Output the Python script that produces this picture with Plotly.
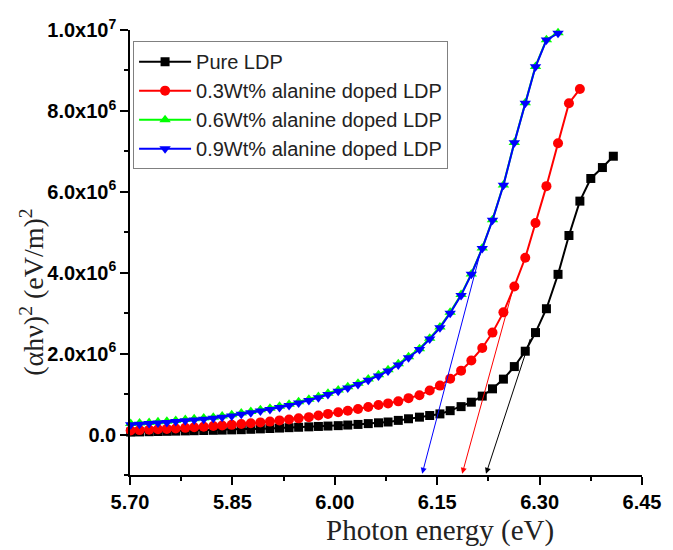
import plotly.graph_objects as go

# Photon energy grid (eV), one point per 0.5 nm of wavelength
energy = [5.701, 5.714, 5.728, 5.741, 5.754, 5.767, 5.781, 5.794, 5.808, 5.822,
          5.835, 5.849, 5.863, 5.877, 5.891, 5.905, 5.919, 5.933, 5.947, 5.962,
          5.976, 5.990, 6.005, 6.019, 6.034, 6.049, 6.064, 6.078, 6.093, 6.108,
          6.124, 6.139, 6.154, 6.169, 6.185, 6.200, 6.216, 6.231, 6.247, 6.263,
          6.279, 6.294, 6.310, 6.327, 6.343, 6.359, 6.375, 6.392, 6.408]

# (alpha h nu)^2 in units of 1e6 (eV/m)^2
pure_ldp = [0.06, 0.065, 0.07, 0.075, 0.08, 0.085, 0.09, 0.095, 0.10, 0.105,
            0.11, 0.115, 0.12, 0.13, 0.14, 0.15, 0.16, 0.17, 0.18, 0.19,
            0.20, 0.21, 0.22, 0.235, 0.25, 0.27, 0.29, 0.31, 0.35, 0.39,
            0.43, 0.47, 0.51, 0.59, 0.69, 0.80, 0.95, 1.13, 1.37, 1.68,
            2.06, 2.52, 3.11, 3.96, 4.92, 5.77, 6.33, 6.60, 6.88]

ala_03 = [0.10, 0.11, 0.12, 0.13, 0.14, 0.15, 0.165, 0.18, 0.195, 0.21,
          0.225, 0.24, 0.26, 0.28, 0.30, 0.32, 0.35, 0.37, 0.40, 0.43,
          0.47, 0.51, 0.55, 0.59, 0.63, 0.68, 0.73, 0.77, 0.82, 0.90,
          0.97, 1.09, 1.21, 1.38, 1.58, 1.83, 2.14, 2.52, 3.02, 3.66,
          4.37, 5.23, 6.14, 7.20, 8.19, 8.54]

ala_06 = [0.27, 0.285, 0.30, 0.315, 0.33, 0.35, 0.37, 0.39, 0.41, 0.43,
          0.46, 0.49, 0.53, 0.57, 0.61, 0.65, 0.70, 0.75, 0.81, 0.87,
          0.94, 1.02, 1.10, 1.18, 1.27, 1.37, 1.48, 1.60, 1.75, 1.92,
          2.12, 2.38, 2.66, 3.02, 3.46, 3.97, 4.61, 5.31, 6.17, 7.22,
          8.20, 9.10, 9.76, 9.93]

ala_09 = [0.24, 0.255, 0.27, 0.285, 0.30, 0.32, 0.34, 0.36, 0.38, 0.40,
          0.43, 0.46, 0.50, 0.54, 0.58, 0.62, 0.67, 0.72, 0.78, 0.84,
          0.91, 0.99, 1.07, 1.15, 1.24, 1.34, 1.45, 1.57, 1.72, 1.90,
          2.10, 2.36, 2.64, 3.00, 3.44, 3.96, 4.60, 5.30, 6.16, 7.21,
          8.19, 9.09, 9.75, 9.92]

# Linear extrapolations to the energy axis (band-gap estimates)
fit_colors = ["#000000", "#ff0000", "#0000ff"]
fit_top_x = [6.287, 6.262, 6.214]
fit_top_y = [2.40, 3.66, 4.55]
fit_gap_x = [6.2215, 6.1866, 6.128]
fit_base_y = -0.97

y_tick_vals = [0, 2, 4, 6, 8, 10]
y_tick_text = ["0.0", "2.0x10<sup>6</sup>", "4.0x10<sup>6</sup>",
               "6.0x10<sup>6</sup>", "8.0x10<sup>6</sup>", "1.0x10<sup>7</sup>"]
x_tick_vals = [5.70, 5.85, 6.00, 6.15, 6.30, 6.45]
x_tick_text = ["5.70", "5.85", "6.00", "6.15", "6.30", "6.45"]

SCALE = 1e6

series = [
    ("Pure LDP", pure_ldp, "#000000", "square", 9),
    ("0.3Wt% alanine doped LDP", ala_03, "#ff0000", "circle", 10),
    ("0.6Wt% alanine doped LDP", ala_06, "#00ff00", "triangle-up", 10),
    ("0.9Wt% alanine doped LDP", ala_09, "#0000ff", "triangle-down", 10),
]

fig = go.Figure()
for name, vals, color, symbol, size in series:
    fig.add_trace(go.Scatter(
        x=energy[:len(vals)],
        y=[v * SCALE for v in vals],
        mode="lines+markers",
        name=name,
        line=dict(color=color, width=2),
        marker=dict(color=color, symbol=symbol, size=size),
        cliponaxis=False,
    ))

for color, tx, ty, gx in zip(fit_colors, fit_top_x, fit_top_y, fit_gap_x):
    fig.add_annotation(
        x=gx, y=fit_base_y * SCALE, ax=tx, ay=ty * SCALE,
        xref="x", yref="y", axref="x", ayref="y",
        text="", showarrow=True, arrowhead=2, arrowsize=1.2,
        arrowwidth=1, arrowcolor=color, standoff=0,
    )

fig.add_annotation(
    text="Photon energy (eV)", xref="paper", yref="paper",
    x=0.605, y=-0.125, xanchor="center", yanchor="middle", showarrow=False,
    font=dict(family="Liberation Serif", size=29, color="#222"),
)
fig.add_annotation(
    text="(αhν)<sup>2</sup> (eV/m)<sup>2</sup>", xref="paper", yref="paper",
    x=-0.192, y=0.411, xanchor="center", yanchor="middle", showarrow=False,
    textangle=-90,
    font=dict(family="Liberation Serif", size=28, color="#222"),
)

axis_common = dict(
    showline=True, linecolor="#000", linewidth=1.5,
    ticks="outside", ticklen=8, tickwidth=1.5, tickcolor="#000",
    showgrid=False, zeroline=False, mirror=False,
    tickfont=dict(family="Liberation Sans", size=20, color="#000", weight="bold"),
)

fig.update_xaxes(
    range=[5.70, 6.45], tickvals=x_tick_vals, ticktext=x_tick_text,
    minor=dict(dtick=0.075, tick0=5.70, ticks="outside", ticklen=4,
               tickwidth=1.5, tickcolor="#000"),
    **axis_common,
)
fig.update_yaxes(
    range=[-1.0e6, 1.0e7], tickvals=[v * SCALE for v in y_tick_vals],
    ticktext=y_tick_text,
    minor=dict(dtick=1e6, tick0=0, ticks="outside", ticklen=4,
               tickwidth=1.5, tickcolor="#000"),
    **axis_common,
)

fig.update_layout(
    width=673, height=550,
    margin=dict(l=130, r=24, t=30, b=75),
    plot_bgcolor="white", paper_bgcolor="white",
    showlegend=True,
    legend=dict(
        x=0.006, y=0.975, xanchor="left", yanchor="top",
        bordercolor="#808080", borderwidth=1, bgcolor="white",
        font=dict(family="Liberation Sans", size=20, color="#222"),
        tracegroupgap=0, itemwidth=52,
    ),
)

fig.write_html("out.html")
